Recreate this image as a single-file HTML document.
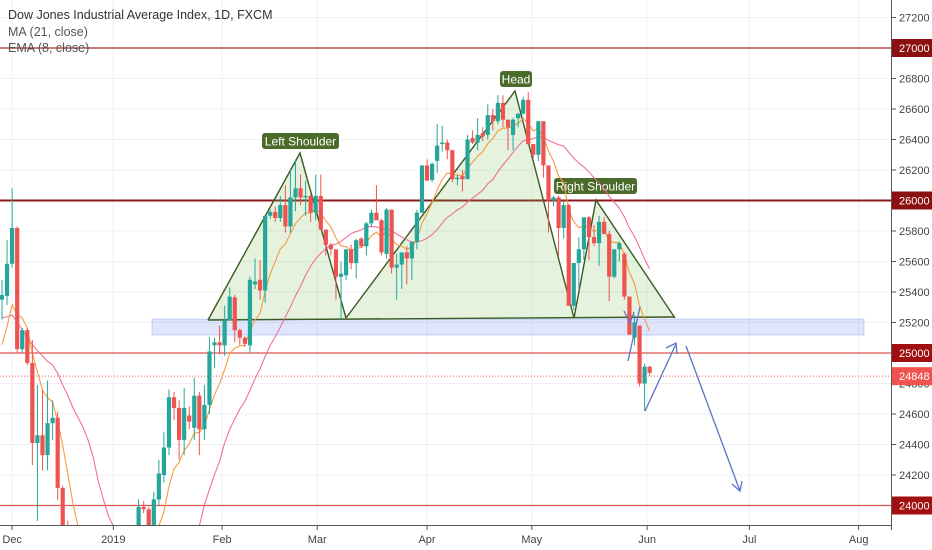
<!DOCTYPE html>
<html><head><meta charset="utf-8">
<style>
html,body{margin:0;padding:0;background:#fff;width:932px;height:550px;overflow:hidden;}
#wrap{position:relative;width:932px;height:550px;overflow:hidden;font-family:"Liberation Sans",sans-serif;}
svg{position:absolute;left:0;top:0;display:block;overflow:hidden;}
</style></head>
<body>
<div id="wrap">
<svg id="chart" width="932" height="550">
  <defs><clipPath id="plotClip"><rect x="0" y="0" width="891" height="525"/></clipPath></defs>
  <g id="grid"></g>
  <g id="levels"></g>
  <g id="patterns"></g>
  <g id="lines" clip-path="url(#plotClip)"></g>
  <g id="candles" clip-path="url(#plotClip)"></g>
  <g id="arrows"></g>
  <g id="axes"></g>
  <text x="8" y="19" font-size="12.5" fill="#333" font-weight="500">Dow Jones Industrial Average Index, 1D, FXCM</text>
  <text x="8" y="36" font-size="12.5" fill="#555">MA (21, close)</text>
  <text x="8" y="52" font-size="12.5" fill="#555">EMA (8, close)</text>
</svg>
</div>
<script>
// ---- data ----
const opens  = [25350,25375,25585,25820,25025,25150,24935,24410,24460,24330,24540,24575,24115,23840,23560,23350,23100,22950,22700,22450,21800,22850,23050,23200,22700,23500,23700,
23750,23990,23975,23870,24040,24200,24380,24710,24640,24430,24590,24510,24720,24500,24660,25050,25070,25050,25215,25365,25150,25100,25050,25450,25480,25410,25900,25925,25885,25970,25830,26020,26080,26020,26030,25920,26030,25810,25710,25680,25500,25510,25680,25590,25750,25700,25850,25920,25870,25650,25940,25560,25580,25660,25620,25730,25920,26230,
26135,26260,26370,26380,26330,26140,26160,26140,26410,26380,26440,26430,26560,26520,26640,26530,26430,26540,26570,26660,26370,26300,26520,26230,26000,26020,25820,25970,25310,25590,25680,25890,25760,25720,25860,25780,25500,25680,25650,25370,25100,25180,24800,24910];
const highs  = [25480,25740,26080,25830,25165,25160,25085,24790,24755,24820,24690,24615,24130,23900,23650,23500,23300,23100,22800,22550,22900,23200,23300,23350,23500,23750,23800,
24040,24030,23990,24090,24300,24480,24760,24745,24690,24770,24650,24840,24745,24790,25105,25100,25180,25310,25430,25380,25160,25110,25500,25620,25610,25900,25940,25960,26030,26100,26210,26270,26170,26130,26040,26170,26170,25810,25720,25680,25600,25680,25710,25750,25760,25860,25940,26100,25880,25950,25940,25650,25660,25700,25700,25940,26230,26270,
26250,26500,26490,26400,26330,26170,26200,26430,26460,26540,26480,26630,26600,26690,26690,26530,26540,26550,26680,26710,26370,26520,26520,26230,26030,26030,26000,25980,25590,25760,25890,25900,25840,25900,25890,25800,25640,25730,25660,25370,25250,25180,24930,24915];
const lows   = [25220,25315,25560,25000,25005,24920,24265,23900,24230,24230,24430,24035,23640,23500,23300,23050,22900,22600,22300,21750,21700,22600,22800,22650,22650,23400,23500,
23700,23950,23850,23850,24000,24150,24330,24560,24300,24330,24500,24430,24330,24430,24600,24900,24990,24980,25215,25070,25050,25040,25000,25420,25350,25330,25880,25860,25860,25790,25790,25930,25970,25900,25860,25870,25810,25640,25640,25350,25230,25480,25550,25490,25690,25640,25830,25880,25640,25620,25520,25350,25420,25450,25480,25680,25920,26130,
26120,26180,26320,26270,26120,26100,26060,26140,26370,26330,26390,26400,26460,26500,26480,26330,26330,26480,26560,26360,26280,26260,26150,25790,25960,25640,25750,25310,25280,25410,25610,25610,25700,25570,25800,25340,25490,25600,25350,25130,25050,24780,24620,24850];
const closes = [25380,25585,25820,25025,25150,24935,24410,24460,24330,24540,24575,24115,23840,23560,23350,23100,22950,22700,22450,21800,22850,23050,23200,22700,23500,23700,23750,
23990,23975,23870,24040,24210,24380,24710,24640,24430,24640,24550,24720,24500,24660,25010,25070,25050,25215,25370,25150,25100,25060,25480,25470,25410,25900,25925,25885,25970,25830,26020,26080,26020,26030,25920,26030,25810,25710,25680,25500,25520,25680,25590,25740,25700,25850,25920,25870,25660,25940,25560,25580,25660,25620,25730,25920,26230,26130,
26240,26360,26380,26330,26140,26150,26140,26400,26380,26430,26420,26560,26520,26640,26530,26480,26530,26570,26660,26370,26300,26520,26230,26000,26020,25820,25970,25310,25590,25680,25890,25760,25720,25860,25780,25500,25680,25720,25370,25120,25200,24800,24910,24870];
const priorCloses = [25100,25400,25600,26000,26190,25990,25390,25290,25060,25290,25080,25280,25410,25020,25010,24460,24290,24470,24750,25080,25370];
const priceTicks = [27200,27000,26800,26600,26400,26200,26000,25800,25600,25400,25200,25000,24800,24600,24400,24200,24000];
const levelPrices = [27000,26000,25000,24000];
const lastPrice = 24848;
const monthLabels = ["Dec","2019","Feb","Mar","Apr","May","Jun","Jul","Aug"];
const monthIndex = [2,22,43.5,62.3,84,104.7,127.5,147.7,169.3];

// ---- scales ----
const NS="http://www.w3.org/2000/svg";
const xOf = i => 2 + i*5.06;
const yOf = p => 353 - (p-25000)*0.1525;
const yClip = p => Math.min(526, yOf(p));
function mk(tag, attrs, parent){const e=document.createElementNS(NS,tag);for(const k in attrs)e.setAttribute(k,attrs[k]);parent.appendChild(e);return e;}
const G=id=>document.getElementById(id);

priceTicks.forEach(p=>{
  const l=mk('line',{x1:0,x2:891,y1:yOf(p),y2:yOf(p),stroke:'#eef0f5','stroke-width':1},G('grid'));
  
  
});
monthIndex.forEach(i=>{
  const l=mk('line',{x1:xOf(i),x2:xOf(i),y1:0,y2:525,stroke:'#eef0f5','stroke-width':1},G('grid'));
  
  
});

const rect=mk('rect',{x:152,y:yOf(25222),width:712,height:yOf(25118)-yOf(25222),fill:'rgba(110,140,240,0.22)',stroke:'rgba(110,140,240,0.35)'},G('levels'));



levelPrices.forEach(p=>{
  const l=mk('line',{x1:0,x2:891,y1:yOf(p),y2:yOf(p),stroke:p===26000?'#8b1a1a':(p===27000?'#a52a2a':'#d9534f'),'stroke-width':p===26000?2:1.3},G('levels'));
  
  
});
const ll=mk('line',{x1:0,x2:891,y1:yOf(lastPrice),y2:yOf(lastPrice),stroke:'#ef5350','stroke-width':1,'stroke-dasharray':'1,2'},G('levels'));



const P=G('patterns');
const tris=[
 [[208,320],[300,153],[346,318]],
 [[346,318],[515,91],[574,318]],
 [[574,318],[596,200],[675,318]]
];
const fillPoly=mk('polygon',{points:'208,320 300,153 346,318 515,91 574,318 596,200 675,318',fill:'rgba(120,190,90,0.2)',stroke:'none'},P);


tris.forEach((t,k)=>{
  const pl=mk('polyline',{points:t.map(q=>q.join(',')).join(' '),fill:'none',stroke:'#3b5a1f','stroke-width':1.4},P);
  
  
});
const nl=mk('line',{x1:208,y1:320,x2:675,y2:317,stroke:'#3b5a1f','stroke-width':1.4},P);


[["Left Shoulder",262,133,77],["Head",500,71,32],["Right Shoulder",554,178,83]].forEach(([t,x,y,w])=>{
  const r=mk('rect',{x:x,y:y,width:w,height:16,rx:3,fill:'#4a6b2a'},P);
  
  
  const tx=mk('text',{x:x+w/2,y:y+12.5,'font-size':12,fill:'#fff','text-anchor':'middle'},P);
  tx.textContent=t;
  
  
});

const all=priorCloses.concat(closes);
const off=priorCloses.length;
let ma=[],ema=[],e=all[0];
for(let j=0;j<all.length;j++){
  e = j===0?all[0]:all[j]*2/9 + e*7/9;
  if(j>=off){
    ema.push(e);
    let s=0;for(let k=j-20;k<=j;k++)s+=all[k];
    ma.push(s/21);
  }
}
const maL=mk('polyline',{points:ma.map((v,i)=>xOf(i)+','+yClip(v)).join(' '),fill:'none',stroke:'#f06292','stroke-width':1.1,opacity:0.9},G('lines'));


const emL=mk('polyline',{points:ema.map((v,i)=>xOf(i)+','+yClip(v)).join(' '),fill:'none',stroke:'#f59b42','stroke-width':1.1},G('lines'));



closes.forEach((c,i)=>{
  const o=opens[i],h=highs[i],l=lows[i],up=c>=o,col=up?'#26a69a':'#ef5350',x=xOf(i);
  const g=mk('g',{},G('candles'));
  
  
  mk('line',{x1:x,x2:x,y1:yClip(h),y2:yClip(l),stroke:col,'stroke-width':1},g);
  const top=yClip(Math.max(o,c)),bot=yClip(Math.min(o,c));
  mk('rect',{x:x-2.1,y:top,width:4.2,height:Math.max(0.5,bot-top),fill:col},g);
});

const A=G('arrows');
const arrowCol='#5b74c4';
[["628,361 640,307","small-arrow"],["624,311 630,323 634,312","small-arrow-head"],["645,411 676,344","up-arrow"],["666,348 676,343 677,354","up-arrow-head"],["686,346 740,491","down-arrow"],["732,484 740,491 742,481","down-arrow-head"]].forEach(([pts,n])=>{
  const pl=mk('polyline',{points:pts,fill:'none',stroke:arrowCol,'stroke-width':1.3},A);
  
  
});

const X=G('axes');
const ax1=mk('line',{x1:0,x2:891,y1:525.5,y2:525.5,stroke:'#555','stroke-width':1},X);


const ax2=mk('line',{x1:891.5,x2:891.5,y1:0,y2:530,stroke:'#555','stroke-width':1},X);


priceTicks.forEach(p=>{
  const y=yOf(p);
  const tk=mk('line',{x1:891,x2:896,y1:y,y2:y,stroke:'#555'},X);
  
  
  const t=mk('text',{x:899,y:y+4,'font-size':11,fill:'#444'},X);
  t.textContent=p;
  
  
});
function tag(p,bg,name){
  const y=yOf(p);
  const r=mk('rect',{x:892,y:y-9,width:40,height:18,fill:bg},X);
  
  
  const t=mk('text',{x:899,y:y+4,'font-size':11,fill:'#fff'},X);
  t.textContent=p;
  
  
}
levelPrices.forEach(p=>tag(p,p===26000||p===27000?'#8b1010':'#a01010','level-tag-'+p));
tag(lastPrice,'#ef5350','last-price-tag');
monthLabels.forEach((m,k)=>{
  const x=xOf(monthIndex[k]);
  const tk=mk('line',{x1:x,x2:x,y1:525,y2:530,stroke:'#555'},X);
  
  
  const t=mk('text',{x:x,y:543,'font-size':11,fill:'#444','text-anchor':'middle'},X);
  t.textContent=m;
  
  
});
</script>
</body></html>
